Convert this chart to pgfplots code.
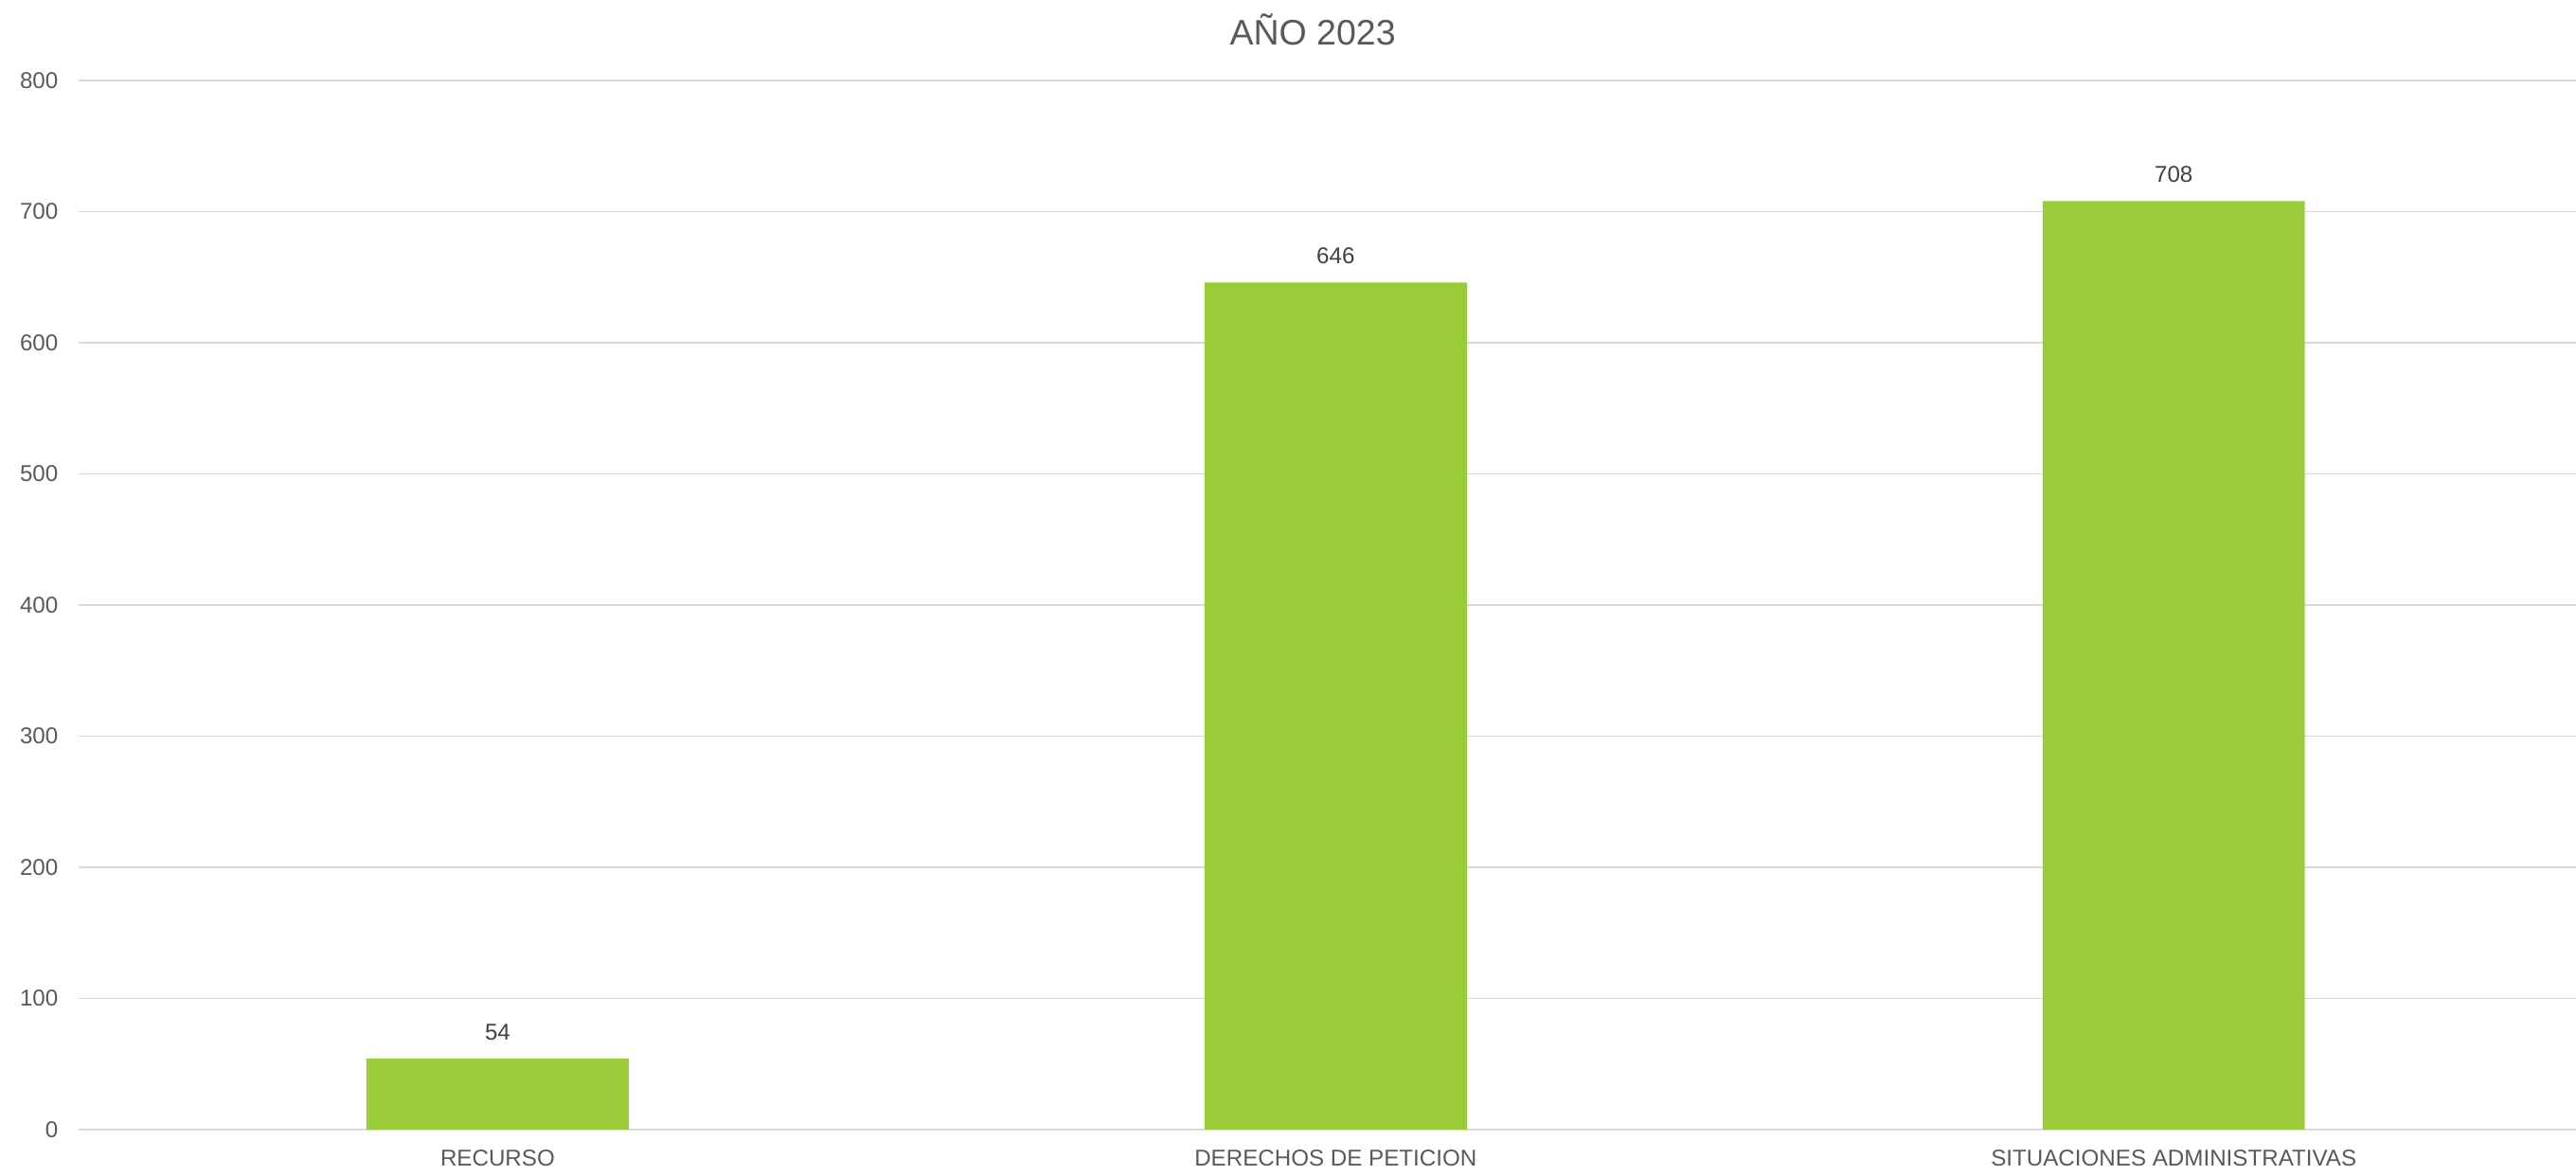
\documentclass[border=0pt]{standalone}
\usepackage{fontspec}
\setmainfont{Liberation Sans}
\usepackage{pgfplots}
\pgfplotsset{compat=1.18}
\definecolor{bargreen}{RGB}{154,203,57}
\definecolor{ticktext}{RGB}{89,89,89}
\definecolor{labeltext}{RGB}{64,64,64}
\definecolor{gridgray}{RGB}{217,217,217}
\begin{document}
\begin{tikzpicture}
\path[use as bounding box] (0pt,0pt) rectangle (979.2pt,446.76pt);
\begin{axis}[
  at={(29.88pt,17.28pt)}, anchor=south west,
  scale only axis,
  width=949.3pt, height=398.9pt,
  xmin=-0.5, xmax=2.48,
  ymin=0, ymax=800,
  ytick={0,100,...,800},
  xtick={0,1,2},
  xticklabels={RECURSO, DERECHOS DE PETICION, SITUACIONES ADMINISTRATIVAS},
  /pgf/number format/assume math mode=true,
  ymajorgrids,
  grid style={gridgray, line width=0.6pt},
  axis x line*=bottom,
  axis y line*=left,
  x axis line style={gridgray, line width=0.6pt, -},
  y axis line style={draw=none},
  major tick length=0pt,
  tick style={draw=none},
  tick label style={font=\fontsize{8.7}{10.5}\selectfont, text=ticktext, inner sep=0pt},
  yticklabel style={anchor=east, xshift=-7.6pt},
  xticklabel style={anchor=north, yshift=-7.6pt},
  ybar, bar width=99.7pt,
  nodes near coords,
  every node near coord/.append style={font=\fontsize{8.7}{10.5}\selectfont, text=labeltext, inner sep=0pt, anchor=south, yshift=6.8pt},
  clip=false,
]
\addplot[fill=bargreen, draw=none] coordinates {(0,54) (1,646) (2,708)};
\end{axis}
\node[font=\fontsize{13.5}{16}\selectfont, text=ticktext] at (499pt,435.6pt) {AÑO 2023};
\end{tikzpicture}
\end{document}
